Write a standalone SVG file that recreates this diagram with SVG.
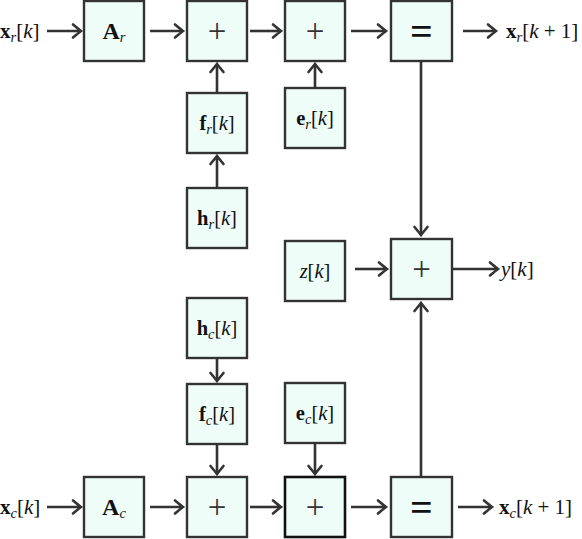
<svg xmlns="http://www.w3.org/2000/svg" width="582" height="539" viewBox="0 0 582 539">
<style>
.box{fill:#effdf8;stroke:#333;stroke-width:2.4}
.boxk{fill:#effdf8;stroke:#111;stroke-width:2.6}
.t{font-family:"Liberation Serif","DejaVu Serif",serif;font-size:20.5px;fill:#111}
.o{font-size:21px}
.b{font-weight:bold}
.i{font-style:italic}
.s{font-size:14.5px;font-style:italic}
.op{font-family:"Liberation Serif","DejaVu Serif",serif;font-size:33px;fill:#333;text-anchor:middle}
.eq{font-family:"Liberation Serif","DejaVu Serif",serif;font-size:40px;font-weight:bold;fill:#111;text-anchor:middle}
.c{fill:none;stroke:#333;stroke-width:2.6;marker-end:url(#ah)}
</style>
<defs>
<marker id="ah" markerUnits="userSpaceOnUse" markerWidth="14" markerHeight="16" viewBox="-11 -8 14 16" refX="0" refY="0" orient="auto" overflow="visible">
<path d="M-8,-6.5 Q-2,-1.5 0,0 Q-2,1.5 -8,6.5" fill="none" stroke="#333" stroke-width="2.6" stroke-linecap="round"/>
</marker>
</defs>
<g id="connectors">
<path class="c" d="M47,31 H81"/>
<path class="c" d="M150,31 H183"/>
<path class="c" d="M250,31 H281"/>
<path class="c" d="M351,31 H386"/>
<path class="c" d="M463,31 H496"/>
<path class="c" d="M217,93 V64"/>
<path class="c" d="M217,188 V156"/>
<path class="c" d="M315,88 V64"/>
<path class="c" d="M421,61 V235"/>
<path class="c" d="M421,477 V303"/>
<path class="c" d="M355,269 H387"/>
<path class="c" d="M453,269 H498"/>
<path class="c" d="M217,358 V381"/>
<path class="c" d="M217,444 V474"/>
<path class="c" d="M315,443 V474"/>
<path class="c" d="M47,507 H81"/>
<path class="c" d="M150,507 H183"/>
<path class="c" d="M250,507 H281"/>
<path class="c" d="M351,507 H386"/>
<path class="c" d="M458,507 H492"/>
</g>
<g id="in_xr"><text class="t o" x="0" y="38"><tspan class="b">x</tspan><tspan class="s" dy="4">r</tspan><tspan dy="-4">[</tspan><tspan class="i">k</tspan>]</text></g>
<g id="Ar"><rect class="box" x="84" y="1" width="60" height="60"/><text class="t" x="114" y="39" text-anchor="middle"><tspan class="b" font-size="24">A</tspan><tspan class="s" font-size="16" dy="3">r</tspan></text></g>
<g id="plus_r1"><rect class="box" x="187" y="1" width="60" height="60"/><text class="op" x="217" y="42">+</text></g>
<g id="plus_r2"><rect class="box" x="285" y="1" width="60" height="60"/><text class="op" x="315" y="42">+</text></g>
<g id="eq_r"><rect class="box" x="391" y="1" width="61" height="60"/><text class="eq" x="421.5" y="45">=</text></g>
<g id="out_xr"><text class="t o" x="506" y="38"><tspan class="b">x</tspan><tspan class="s" dy="4">r</tspan><tspan dy="-4">[</tspan><tspan class="i">k</tspan> + 1]</text></g>
<g id="fr"><rect class="box" x="187" y="93" width="60" height="60"/><text class="t" x="217" y="130" text-anchor="middle"><tspan class="b">f</tspan><tspan class="s" dy="4">r</tspan><tspan dy="-4">[</tspan><tspan class="i">k</tspan>]</text></g>
<g id="er"><rect class="box" x="285" y="88" width="60" height="60"/><text class="t" x="315" y="125" text-anchor="middle"><tspan class="b">e</tspan><tspan class="s" dy="4">r</tspan><tspan dy="-4">[</tspan><tspan class="i">k</tspan>]</text></g>
<g id="hr"><rect class="box" x="187" y="188" width="60" height="60"/><text class="t" x="217" y="225" text-anchor="middle"><tspan class="b">h</tspan><tspan class="s" dy="4">r</tspan><tspan dy="-4">[</tspan><tspan class="i">k</tspan>]</text></g>
<g id="z"><rect class="box" x="285" y="241" width="60" height="60"/><text class="t" x="315" y="278" text-anchor="middle"><tspan class="i">z</tspan>[<tspan class="i">k</tspan>]</text></g>
<g id="plus_y"><rect class="box" x="391" y="239" width="61" height="60"/><text class="op" x="421.5" y="280">+</text></g>
<g id="out_y"><text class="t o" x="501" y="276"><tspan class="i">y</tspan>[<tspan class="i">k</tspan>]</text></g>
<g id="hc"><rect class="box" x="187" y="298" width="60" height="60"/><text class="t" x="217" y="335" text-anchor="middle"><tspan class="b">h</tspan><tspan class="s" dy="4">c</tspan><tspan dy="-4">[</tspan><tspan class="i">k</tspan>]</text></g>
<g id="fc"><rect class="box" x="187" y="384" width="60" height="60"/><text class="t" x="217" y="421" text-anchor="middle"><tspan class="b">f</tspan><tspan class="s" dy="4">c</tspan><tspan dy="-4">[</tspan><tspan class="i">k</tspan>]</text></g>
<g id="ec"><rect class="box" x="285" y="383" width="60" height="60"/><text class="t" x="315" y="420" text-anchor="middle"><tspan class="b">e</tspan><tspan class="s" dy="4">c</tspan><tspan dy="-4">[</tspan><tspan class="i">k</tspan>]</text></g>
<g id="in_xc"><text class="t o" x="0" y="514"><tspan class="b">x</tspan><tspan class="s" dy="4">c</tspan><tspan dy="-4">[</tspan><tspan class="i">k</tspan>]</text></g>
<g id="Ac"><rect class="box" x="84" y="477" width="60" height="60"/><text class="t" x="114" y="515" text-anchor="middle"><tspan class="b" font-size="24">A</tspan><tspan class="s" font-size="16" dy="3">c</tspan></text></g>
<g id="plus_c1"><rect class="box" x="187" y="477" width="60" height="60"/><text class="op" x="217" y="518">+</text></g>
<g id="plus_c2"><rect class="boxk" x="285" y="477" width="60" height="60"/><text class="op" x="315" y="518">+</text></g>
<g id="eq_c"><rect class="box" x="391" y="477" width="61" height="60"/><text class="eq" x="421.5" y="521">=</text></g>
<g id="out_xc"><text class="t o" x="499" y="514"><tspan class="b">x</tspan><tspan class="s" dy="4">c</tspan><tspan dy="-4">[</tspan><tspan class="i">k</tspan> + 1]</text></g>
</svg>
